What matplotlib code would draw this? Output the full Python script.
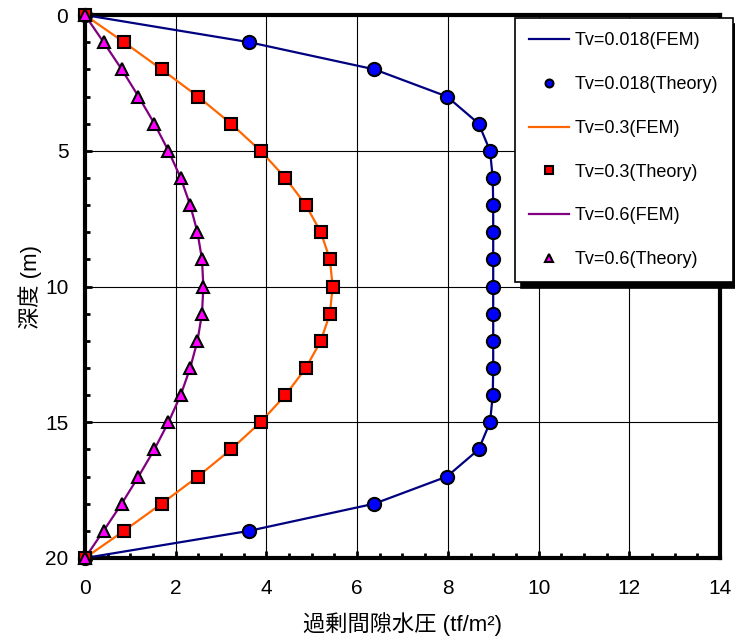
import numpy as np
import matplotlib
matplotlib.use("Agg")
from matplotlib import pyplot as plt
from matplotlib.ticker import MultipleLocator

plt.rcParams['font.family'] = ['Liberation Sans', 'Noto Sans CJK JP', 'DejaVu Sans']

# depth (m)
depth = [0, 1, 2, 3, 4, 5, 6, 7, 8, 9, 10, 11, 12, 13, 14, 15, 16, 17, 18, 19, 20]

# excess pore pressure (tf/m2)
u_018 = [0, 3.62, 6.38, 7.98, 8.68, 8.93, 8.99, 9.0, 9.0, 9.0, 9.0,
         9.0, 9.0, 9.0, 8.99, 8.93, 8.68, 7.98, 6.38, 3.62, 0]
u_03 = [0, 0.86, 1.69, 2.49, 3.22, 3.87, 4.42, 4.87, 5.20, 5.40, 5.46,
        5.40, 5.20, 4.87, 4.42, 3.87, 3.22, 2.49, 1.69, 0.86, 0]
u_06 = [0, 0.41, 0.81, 1.18, 1.53, 1.84, 2.11, 2.32, 2.48, 2.58, 2.61,
        2.58, 2.48, 2.32, 2.11, 1.84, 1.53, 1.18, 0.81, 0.41, 0]

fig = plt.figure(figsize=(7.35, 6.41), dpi=100)
ax = fig.add_axes([0.1156, 0.1295, 0.864, 0.847])

ax.plot(u_018, depth, color="#000080", lw=1.6, label="Tv=0.018(FEM)", zorder=3)
ax.plot(u_018, depth, ls="none", marker="o", ms=9.5, mfc="#0000FF", mec="black",
        mew=1.5, label="Tv=0.018(Theory)", zorder=4, clip_on=False)
ax.plot(u_03, depth, color="#FF6600", lw=1.6, label="Tv=0.3(FEM)", zorder=3)
ax.plot(u_03, depth, ls="none", marker="s", ms=8.5, mfc="#FF0000", mec="black",
        mew=1.5, label="Tv=0.3(Theory)", zorder=4, clip_on=False)
ax.plot(u_06, depth, color="#800080", lw=1.6, label="Tv=0.6(FEM)", zorder=3)
ax.plot(u_06, depth, ls="none", marker="^", ms=9, mfc="#FF00FF", mec="black",
        mew=1.5, label="Tv=0.6(Theory)", zorder=4, clip_on=False)

ax.set_xlim(0, 14)
ax.set_ylim(20, 0)
ax.xaxis.set_major_locator(MultipleLocator(2))
ax.xaxis.set_minor_locator(MultipleLocator(0.5))
ax.yaxis.set_major_locator(MultipleLocator(5))
ax.yaxis.set_minor_locator(MultipleLocator(1))
ax.grid(True, which="major", color="black", lw=0.8)

for s in ax.spines.values():
    s.set_linewidth(3)
ax.tick_params(which="both", direction="in", width=2, labelsize=15, top=False, right=False)
ax.tick_params(which="major", length=5)
ax.tick_params(which="minor", length=3.5)
ax.tick_params(axis="x", pad=15)
ax.tick_params(axis="y", pad=12)

ax.set_xlabel("過剰間隙水圧 (tf/m²)", fontsize=16, labelpad=10)
ax.set_ylabel("深度 (m)", fontsize=16, labelpad=2)

leg = fig.legend(loc="upper left", bbox_to_anchor=(0.7007, 0.972), fontsize=13,
                 frameon=True, fancybox=False, framealpha=1, borderaxespad=0,
                 shadow={"color": "black", "alpha": 1, "ox": 4, "oy": -4},
                 edgecolor="black", markerscale=0.6, handlelength=2.2,
                 handletextpad=0.3, labelspacing=1.48, borderpad=0.8)
leg.get_frame().set_linewidth(1.2)

fig.savefig("out.png", dpi=100)
